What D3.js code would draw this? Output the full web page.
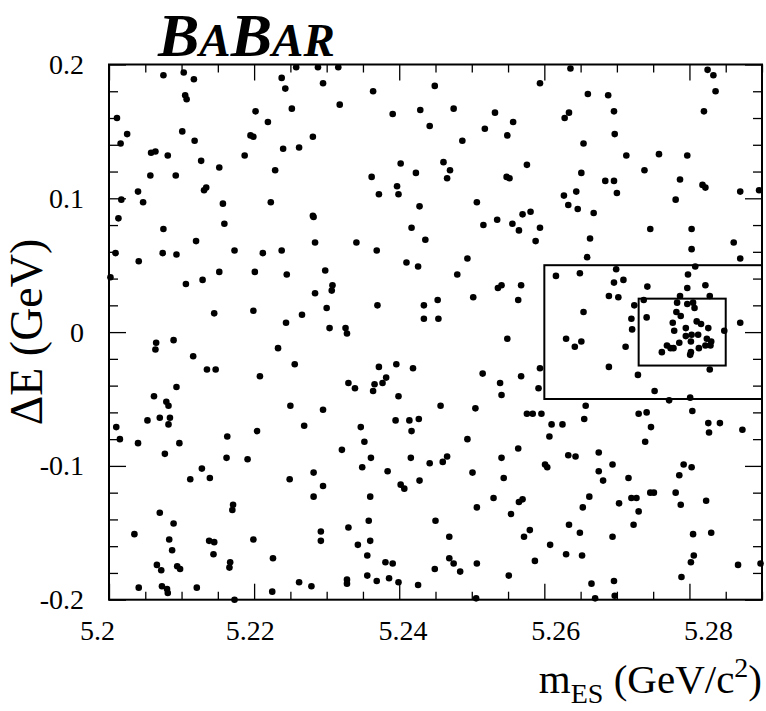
<!DOCTYPE html>
<html>
<head>
<meta charset="utf-8">
<script src="https://cdn.jsdelivr.net/npm/d3@7"></script>
<style>
  body { margin: 0; background: #fff; }
  text { font-family: "Liberation Serif", "Times New Roman", serif; }
</style>
</head>
<body>
<div id="plot"></div>
<script>
// Tick values and labels
var xMajor = [5.2, 5.22, 5.24, 5.26, 5.28];
var xMajorLabels = ["5.2", "5.22", "5.24", "5.26", "5.28"];
var yMajor = [-0.2, -0.1, 0, 0.1, 0.2];
var yMajorLabels = ["-0.2", "-0.1", "0", "0.1", "0.2"];

// Signal boxes [x0, x1, y0, y1]
var bigBox = [5.26, 5.29, -0.05, 0.05];
var smallBox = [5.273, 5.285, -0.025, 0.025];

// Events: mES (GeV/c^2)
var mES = [
  5.2075, 5.2103, 5.2117, 5.2105, 5.2107, 5.2202, 5.2011, 5.2025, 5.2101, 5.2195, 5.2199, 5.2016, 5.2118, 5.2058, 5.2064, 5.2081,
  5.2187, 5.2127, 5.2152, 5.2057, 5.2092, 5.2040, 5.2131, 5.2134, 5.2017, 5.2047, 5.2157, 5.2013, 5.2159, 5.2075, 5.2120,
  5.2258, 5.2288, 5.2316, 5.2238, 5.2243, 5.2295, 5.2364, 5.2252, 5.2318, 5.2391, 5.2429, 5.2219, 5.2442, 5.2281, 5.2240, 5.2262,
  5.2229, 5.2402, 5.2362, 5.2423, 5.2397, 5.2372, 5.2399, 5.2223, 5.2281, 5.2282, 5.2428, 5.2417, 5.2436, 5.2284, 5.2341,
  5.2449, 5.2636, 5.2594, 5.2660, 5.2475, 5.2532, 5.2634, 5.2628, 5.2557, 5.2518, 5.2549, 5.2487, 5.2654, 5.2461, 5.2470, 5.2466,
  5.2576, 5.2548, 5.2552, 5.2651, 5.2507, 5.2627, 5.2644, 5.2633, 5.2646, 5.2668, 5.2581, 5.2570, 5.2535, 5.2516, 5.2556, 5.2565,
  5.2594, 5.2588, 5.2663,
  5.2825, 5.2833, 5.2836, 5.2688, 5.2696, 5.2820, 5.2697, 5.2713, 5.2758, 5.2797, 5.2738, 5.2684, 5.2696, 5.2700, 5.2787, 5.2818,
  5.2822, 5.2870, 5.2896, 5.2781, 5.2746, 5.2803, 5.2861,
  5.2009, 5.2041, 5.2074, 5.2093, 5.2173, 5.2212, 5.2002, 5.2106, 5.2129, 5.2152, 5.2201, 5.2145, 5.2199, 5.2065, 5.2064, 5.2089,
  5.2116, 5.2135, 5.2147, 5.2208, 5.2093, 5.2062, 5.2079, 5.2082, 5.2053, 5.2070, 5.2084,
  5.2238, 5.2369, 5.2410, 5.2426, 5.2245, 5.2298, 5.2308, 5.2307, 5.2284, 5.2300, 5.2370, 5.2434, 5.2434, 5.2266, 5.2244, 5.2304,
  5.2326, 5.2328, 5.2233, 5.2256, 5.2372, 5.2396, 5.2419, 5.2330, 5.2339, 5.2366, 5.2377, 5.2382, 5.2364, 5.2399, 5.2250, 5.2295,
  5.2414, 5.2427, 5.2395,
  5.2494, 5.2659, 5.2480, 5.2536, 5.2541, 5.2568, 5.2616, 5.2649, 5.2453, 5.2502, 5.2564, 5.2454, 5.2549, 5.2654, 5.2630, 5.2642,
  5.2651, 5.2594, 5.2515, 5.2539, 5.2568, 5.2592, 5.2541, 5.2457, 5.2505, 5.2657, 5.2576, 5.2584, 5.2596, 5.2655,
  5.2803, 5.2870, 5.2699, 5.2808, 5.2696, 5.2709, 5.2689, 5.2702, 5.2742, 5.2798, 5.2797, 5.2822, 5.2828, 5.2787, 5.2737, 5.2724,
  5.2783, 5.2797, 5.2805, 5.2807, 5.2782, 5.2788, 5.2741, 5.2720, 5.2721, 5.2777, 5.2810, 5.2816, 5.2826, 5.2779, 5.2795, 5.2848,
  5.2870, 5.2795, 5.2803, 5.2812, 5.2824, 5.2830, 5.2802, 5.2786, 5.2769, 5.2774, 5.2778, 5.2813, 5.2822, 5.2829, 5.2762, 5.2802,
  5.2801, 5.2712, 5.2689, 5.2729, 5.2828, 5.2752, 5.2772, 5.2801, 5.2730, 5.2741, 5.2804,
  5.2010, 5.2015, 5.2040, 5.2077, 5.2097, 5.2082, 5.2163, 5.2204, 5.2162, 5.2191, 5.2128, 5.2112, 5.2139, 5.2171, 5.2170, 5.2070,
  5.2089, 5.2035, 5.2083, 5.2087, 5.2138, 5.2145, 5.2199, 5.2144, 5.2066, 5.2072, 5.2094, 5.2098, 5.2167, 5.2166, 5.2041, 5.2073,
  5.2080, 5.2081, 5.2121, 5.2173,
  5.2269, 5.2347, 5.2417, 5.2352, 5.2321, 5.2361, 5.2349, 5.2416, 5.2442, 5.2384, 5.2249, 5.2282, 5.2295, 5.2282, 5.2360, 5.2402,
  5.2407, 5.2428, 5.2358, 5.2330, 5.2292, 5.2292, 5.2360, 5.2343, 5.2356, 5.2381, 5.2391, 5.2226, 5.2356, 5.2369, 5.2386, 5.2399,
  5.2426, 5.2328, 5.2328, 5.2262, 5.2279, 5.2225,
  5.2610, 5.2625, 5.2607, 5.2494, 5.2564, 5.2460, 5.2466, 5.2501, 5.2541, 5.2544, 5.2601, 5.2604, 5.2633, 5.2643, 5.2675, 5.2675,
  5.2530, 5.2507, 5.2565, 5.2570, 5.2554, 5.2662, 5.2653, 5.2450, 5.2469, 5.2572, 5.2580, 5.2634, 5.2649, 5.2608, 5.2630, 5.2652,
  5.2587, 5.2469, 5.2475, 5.2449, 5.2507, 5.2484, 5.2551, 5.2665, 5.2506, 5.2670,
  5.2826, 5.2842, 5.2827, 5.2873, 5.2747, 5.2739, 5.2694, 5.2681, 5.2716, 5.2792, 5.2803, 5.2786, 5.2746, 5.2751, 5.2781, 5.2720,
  5.2727, 5.2703, 5.2730, 5.2788, 5.2823, 5.2723, 5.2694, 5.2805, 5.2830, 5.2806, 5.2802, 5.2867, 5.2898, 5.2789, 5.2696, 5.2697
];

// Events: Delta E (GeV), same order as mES
var deltaE = [
  0.192, 0.194, 0.189, 0.177, 0.174, 0.165, 0.160, 0.148, 0.150, 0.147, 0.146, 0.141, 0.143, 0.134, 0.135, 0.132,
  0.132, 0.128, 0.123, 0.117, 0.117, 0.105, 0.106, 0.108, 0.099, 0.097, 0.096, 0.085, 0.081, 0.077, 0.068,
  0.198, 0.198, 0.198, 0.190, 0.182, 0.186, 0.180, 0.167, 0.170, 0.163, 0.166, 0.157, 0.154, 0.146, 0.137, 0.138,
  0.121, 0.126, 0.116, 0.119, 0.109, 0.103, 0.103, 0.097, 0.087, 0.086, 0.094, 0.078, 0.069, 0.067, 0.067,
  0.184, 0.197, 0.186, 0.178, 0.167, 0.164, 0.164, 0.160, 0.157, 0.152, 0.147, 0.143, 0.141, 0.127, 0.121, 0.115,
  0.125, 0.116, 0.115, 0.119, 0.097, 0.102, 0.105, 0.095, 0.092, 0.089, 0.090, 0.088, 0.084, 0.080, 0.081, 0.076,
  0.078, 0.068, 0.070,
  0.196, 0.192, 0.180, 0.177, 0.165, 0.165, 0.148, 0.132, 0.133, 0.132, 0.121, 0.113, 0.113, 0.104, 0.114, 0.110,
  0.108, 0.105, 0.106, 0.099, 0.077, 0.077, 0.067,
  0.059, 0.053, 0.059, 0.058, 0.061, 0.059, 0.041, 0.036, 0.039, 0.045, 0.045, 0.014, 0.016, -0.008, -0.013, -0.006,
  -0.018, -0.028, -0.028, -0.033, -0.041, -0.048, -0.052, -0.055, -0.066, -0.064, -0.064,
  0.061, 0.061, 0.052, 0.049, 0.043, 0.046, 0.035, 0.031, 0.029, 0.018, 0.020, 0.020, 0.010, 0.013, 0.007, 0.003,
  0.003, -0.001, -0.012, -0.024, -0.026, -0.024, -0.027, -0.038, -0.042, -0.039, -0.038, -0.034, -0.044, -0.048, -0.055, -0.058,
  -0.066, -0.065, -0.066,
  0.055, 0.056, 0.043, 0.033, 0.035, 0.035, 0.042, 0.044, 0.024, 0.026, 0.024, 0.010, -0.005, 0.015, -0.005, -0.011,
  -0.007, -0.027, -0.031, -0.038, -0.033, -0.042, -0.047, -0.055, -0.057, -0.055, -0.061, -0.061, -0.061, -0.065,
  0.062, 0.055, 0.047, 0.049, 0.037, 0.039, 0.027, 0.026, 0.034, 0.043, 0.033, 0.035, 0.027, 0.027, 0.024, 0.020,
  0.022, 0.021, 0.022, 0.018, 0.015, 0.012, 0.011, 0.010, 0.002, 0.007, 0.008, 0.006, 0.003, 0.001, 0.003, 0.001,
  0.007, -0.003, -0.002, -0.002, -0.005, -0.007, -0.007, -0.008, -0.010, -0.012, -0.012, -0.012, -0.010, -0.010, -0.015, -0.015,
  -0.017, -0.011, -0.026, -0.032, -0.028, -0.044, -0.051, -0.049, -0.061, -0.060, -0.059,
  -0.071, -0.080, -0.083, -0.091, -0.083, -0.069, -0.078, -0.074, -0.094, -0.095, -0.102, -0.110, -0.109, -0.129, -0.133, -0.135,
  -0.143, -0.151, -0.155, -0.163, -0.156, -0.157, -0.155, -0.166, -0.174, -0.178, -0.175, -0.177, -0.172, -0.176, -0.191, -0.190,
  -0.192, -0.195, -0.191, -0.200,
  -0.070, -0.071, -0.074, -0.082, -0.088, -0.094, -0.101, -0.094, -0.098, -0.104, -0.110, -0.105, -0.115, -0.123, -0.123, -0.114,
  -0.117, -0.111, -0.141, -0.146, -0.149, -0.156, -0.156, -0.159, -0.167, -0.172, -0.173, -0.169, -0.182, -0.186, -0.184, -0.187,
  -0.189, -0.185, -0.188, -0.187, -0.190, -0.194,
  -0.069, -0.069, -0.078, -0.080, -0.087, -0.097, -0.093, -0.105, -0.094, -0.109, -0.099, -0.101, -0.092, -0.093, -0.090, -0.104,
  -0.124, -0.131, -0.127, -0.125, -0.136, -0.123, -0.131, -0.141, -0.153, -0.153, -0.148, -0.144, -0.150, -0.159, -0.166, -0.167,
  -0.171, -0.169, -0.173, -0.177, -0.173, -0.179, -0.182, -0.188, -0.199, -0.199,
  -0.068, -0.068, -0.075, -0.073, -0.071, -0.082, -0.099, -0.111, -0.109, -0.099, -0.101, -0.107, -0.120, -0.120, -0.120, -0.124,
  -0.124, -0.128, -0.134, -0.129, -0.126, -0.144, -0.153, -0.151, -0.150, -0.167, -0.172, -0.174, -0.173, -0.183, -0.186, -0.197
];

var events = mES.map(function(m, i) { return { m: m, de: deltaE[i] }; });

var svgWidth = 766;
var svgHeight = 711;
var margin = { top: 64.5, right: 4, bottom: 111.3, left: 109 };
var width = svgWidth - margin.left - margin.right;
var height = svgHeight - margin.top - margin.bottom;

var svg = d3.select("#plot")
  .append("svg")
  .attr("width", svgWidth)
  .attr("height", svgHeight);

var chartGroup = svg.append("g")
  .attr("transform", `translate(${margin.left}, ${margin.top})`);

var xScale = d3.scaleLinear().domain([5.2, 5.29]).range([0, width]);
var yScale = d3.scaleLinear().domain([-0.2, 0.2]).range([height, 0]);
// the printed x labels sit on a slightly wider spacing than the ticks
var xLabelScale = d3.scaleLinear().domain([5.2, 5.28]).range([-12, 599]);

var xMinor = d3.range(5.2, 5.2901, 0.005).filter(v => xMajor.every(t => Math.abs(t - v) > 1e-6));
var yMinor = d3.range(-0.2, 0.2001, 0.02).filter(v => yMajor.every(t => Math.abs(t - v) > 1e-6));

function styleAxis(g) {
  g.select(".domain").remove();
  g.selectAll("line").attr("stroke", "#000").attr("stroke-width", 1.3);
  g.selectAll("text").attr("fill", "#000").attr("font-size", 28)
    .style("font-family", "'Liberation Serif', serif");
}

// bottom axis ticks pointing inward
chartGroup.append("g")
  .attr("transform", `translate(0, ${height})`)
  .call(d3.axisBottom(xScale).tickValues(xMajor).tickSize(-16).tickFormat(""))
  .call(styleAxis);
chartGroup.append("g")
  .attr("transform", `translate(0, ${height})`)
  .call(d3.axisBottom(xScale).tickValues(xMinor).tickSize(-8).tickFormat(""))
  .call(styleAxis);
// bottom labels
var xLabels = chartGroup.append("g")
  .attr("transform", `translate(0, ${height})`)
  .call(d3.axisBottom(xLabelScale).tickValues(xMajor).tickSize(0).tickPadding(20)
    .tickFormat((d, i) => xMajorLabels[i]))
  .call(styleAxis);
xLabels.selectAll("line").remove();
// top mirror
chartGroup.append("g")
  .call(d3.axisTop(xScale).tickValues(xMajor).tickSize(-16).tickFormat(""))
  .call(styleAxis);
chartGroup.append("g")
  .call(d3.axisTop(xScale).tickValues(xMinor).tickSize(-8).tickFormat(""))
  .call(styleAxis);

// left axis
chartGroup.append("g")
  .call(d3.axisLeft(yScale).tickValues(yMajor).tickSize(-17).tickPadding(25)
    .tickFormat((d, i) => yMajorLabels[i]))
  .call(styleAxis);
chartGroup.append("g")
  .call(d3.axisLeft(yScale).tickValues(yMinor).tickSize(-9).tickFormat(""))
  .call(styleAxis);
// right mirror
chartGroup.append("g")
  .attr("transform", `translate(${width}, 0)`)
  .call(d3.axisRight(yScale).tickValues(yMajor).tickSize(-17).tickFormat(""))
  .call(styleAxis);
chartGroup.append("g")
  .attr("transform", `translate(${width}, 0)`)
  .call(d3.axisRight(yScale).tickValues(yMinor).tickSize(-9).tickFormat(""))
  .call(styleAxis);

// frame
chartGroup.append("rect")
  .attr("x", 0).attr("y", 0)
  .attr("width", width).attr("height", height)
  .attr("fill", "none")
  .attr("stroke", "#000")
  .attr("stroke-width", 2);

// signal boxes
[bigBox, smallBox].forEach(function(b) {
  chartGroup.append("rect")
    .attr("x", xScale(b[0]))
    .attr("y", yScale(b[3]))
    .attr("width", xScale(b[1]) - xScale(b[0]))
    .attr("height", yScale(b[2]) - yScale(b[3]))
    .attr("fill", "none")
    .attr("stroke", "#000")
    .attr("stroke-width", 2);
});

// events
chartGroup.append("g").selectAll("circle")
  .data(events)
  .enter()
  .append("circle")
  .attr("cx", d => xScale(d.m))
  .attr("cy", d => yScale(d.de))
  .attr("r", 3.3)
  .attr("fill", "#000");

// axis titles
var xTitle = svg.append("text")
  .attr("x", margin.left + width)
  .attr("y", 693)
  .attr("text-anchor", "end")
  .attr("font-size", 41);
xTitle.append("tspan").text("m");
xTitle.append("tspan").attr("font-size", 28).attr("dy", 10).text("ES");
xTitle.append("tspan").attr("dy", -10).text(" (GeV/c");
xTitle.append("tspan").attr("font-size", 28).attr("dy", -16).text("2");
xTitle.append("tspan").attr("dy", 16).text(")");

svg.append("text")
  .attr("transform", `translate(42, 332) rotate(-90)`)
  .attr("text-anchor", "middle")
  .attr("font-size", 46)
  .text("ΔE (GeV)");

// BaBar logo
var logo = svg.append("text")
  .attr("x", 158)
  .attr("y", 56)
  .attr("font-weight", "bold")
  .attr("font-style", "italic")
  .attr("font-size", 62);
logo.append("tspan").text("B");
logo.append("tspan").attr("font-size", 47).text("A");
logo.append("tspan").text("B");
logo.append("tspan").attr("font-size", 47).text("AR");
</script>
</body>
</html>
